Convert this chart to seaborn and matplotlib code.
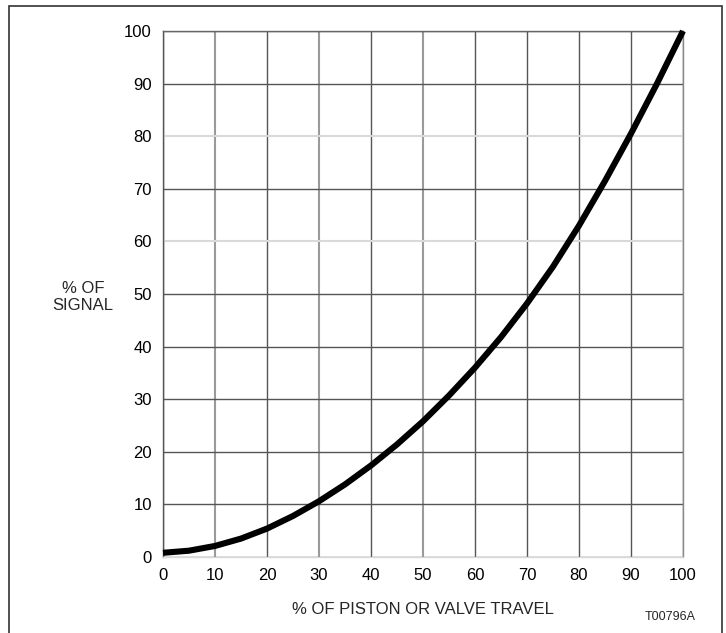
import matplotlib
matplotlib.use("Agg")
import matplotlib.pyplot as plt
import pandas as pd
import seaborn as sns
from matplotlib.patches import Rectangle

# values
travel = [0, 5, 10, 15, 20, 25, 30, 35, 40, 45, 50, 55, 60, 65, 70, 75, 80, 85, 90, 95, 100]
signal = [0.8, 1.2, 2.1, 3.5, 5.4, 7.8, 10.6, 13.8, 17.4, 21.4, 25.8, 30.7, 36.0, 41.8, 48.2, 55.2, 63.0, 71.5, 80.5, 90.0, 100.0]
ticks = list(range(0, 101, 10))

df = pd.DataFrame({"travel": travel, "signal": signal})

sns.set_style("white")
plt.rcParams["font.family"] = ["Liberation Sans", "DejaVu Sans"]

fig = plt.figure(figsize=(7.26, 6.33), dpi=100)
ax = fig.add_axes([163 / 726, 1 - 557 / 633, 520 / 726, 526 / 633])

sns.lineplot(data=df, x="travel", y="signal", color="black", linewidth=4.4, ax=ax)
for ln in ax.get_lines():
    ln.set_solid_capstyle("butt")
    ln.set_solid_joinstyle("round")
    ln.set_clip_on(False)
    ln.set_zorder(5)

ax.set_xlim(0, 100)
ax.set_ylim(0, 100)
ax.set_xticks(ticks)
ax.set_yticks(ticks)
ax.tick_params(length=0, labelsize=12, pad=8, labelcolor="black")
ax.set_xlabel("")
ax.set_ylabel("")

# grid (the scan shows some lines lighter than others)
ax.grid(True, color="#555555", linewidth=1)
ax.set_axisbelow(True)
for t, gl in zip(ticks, ax.get_ygridlines()):
    if t in (60, 80):
        gl.set_color("#d9d9d9")
        gl.set_linewidth(1.5)
for t, gl in zip(ticks, ax.get_xgridlines()):
    if t in (10, 30, 50):
        gl.set_color("#9a9a9a")
        gl.set_linewidth(1.5)

for side, col in [("left", "#555555"), ("bottom", "#d9d9d9"), ("top", "#666666"), ("right", "#888888")]:
    ax.spines[side].set_visible(True)
    ax.spines[side].set_color(col)
    ax.spines[side].set_linewidth(1)

fig.text(83 / 726, 1 - 297 / 633, "% OF\nSIGNAL", ha="center", va="center",
         fontsize=12, linespacing=1.2)
fig.text(423 / 726, 1 - 610 / 633, "% OF PISTON OR VALVE TRAVEL", ha="center", va="center",
         fontsize=12)
fig.text(670 / 726, 1 - 617 / 633, "T00796A", ha="center", va="center", fontsize=9)

# page frame
fig.patches.append(Rectangle((9 / 726, -0.05), 713 / 726, 1.05 - 6 / 633,
                             transform=fig.transFigure, fill=False,
                             edgecolor="#333333", linewidth=1.2))

fig.savefig("out.png", dpi=100, facecolor="white")
